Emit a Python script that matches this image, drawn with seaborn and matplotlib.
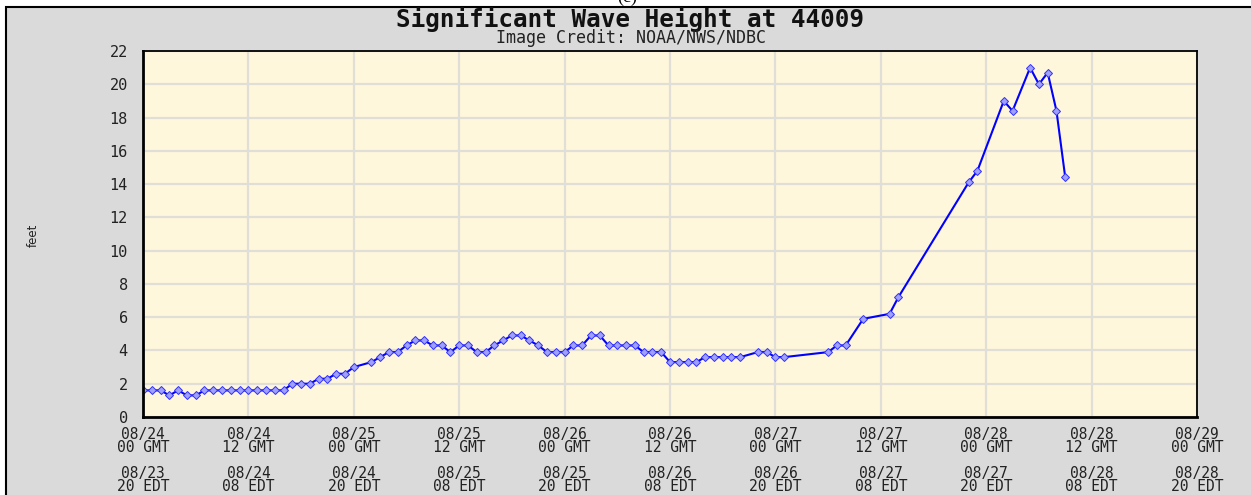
"""
Significant wave height at buoy 44009, redrawn in the NDBC plot style.
"""

import pandas as pd
import matplotlib
matplotlib.use("Agg")
import matplotlib.pyplot as plt
import seaborn as sns
from matplotlib.patches import Rectangle
from matplotlib.ticker import MultipleLocator, FixedLocator

# hours since 08/24 00 GMT
hours = (list(range(0, 25)) + list(range(26, 69)) + [70, 71, 72, 73]
         + [78, 79, 80, 82, 85, 86, 94, 95, 98, 99, 101, 102, 103, 104, 105])

wave_ft = ([1.6, 1.6, 1.6, 1.3, 1.6, 1.3, 1.3] + [1.6] * 10
           + [2.0, 2.0, 2.0, 2.3, 2.3, 2.6, 2.6, 3.0]
           + [3.3, 3.6, 3.9, 3.9, 4.3, 4.6, 4.6, 4.3, 4.3, 3.9,
              4.3, 4.3, 3.9, 3.9, 4.3, 4.6, 4.9, 4.9, 4.6, 4.3,
              3.9, 3.9, 3.9, 4.3, 4.3, 4.9, 4.9, 4.3, 4.3, 4.3,
              4.3, 3.9, 3.9, 3.9]
           + [3.3] * 4 + [3.6] * 5
           + [3.9, 3.9, 3.6, 3.6]
           + [3.9, 4.3, 4.3, 5.9, 6.2, 7.2, 14.1, 14.8, 19.0, 18.4,
              21.0, 20.0, 20.7, 18.4, 14.4])

tick_hours = list(range(0, 121, 12))
gmt_labels = ["08/24\n00 GMT", "08/24\n12 GMT", "08/25\n00 GMT", "08/25\n12 GMT",
              "08/26\n00 GMT", "08/26\n12 GMT", "08/27\n00 GMT", "08/27\n12 GMT",
              "08/28\n00 GMT", "08/28\n12 GMT", "08/29\n00 GMT"]
edt_labels = ["08/23\n20 EDT", "08/24\n08 EDT", "08/24\n20 EDT", "08/25\n08 EDT",
              "08/25\n20 EDT", "08/26\n08 EDT", "08/26\n20 EDT", "08/27\n08 EDT",
              "08/27\n20 EDT", "08/28\n08 EDT", "08/28\n20 EDT"]

df = pd.DataFrame({"hour": hours, "feet": wave_ft})

sns.set_style("white")
plt.rcParams['font.family'] = ['DejaVu Sans Mono', 'DejaVu Sans']

W, H = 1251, 495
fig = plt.figure(figsize=(W / 100, H / 100), dpi=100, facecolor='white')

# gray panel with black top/left border
fig.patches.append(Rectangle((6 / W, -0.05), 1.2, (H - 7) / H + 0.05,
                             transform=fig.transFigure, facecolor='#DADADA',
                             edgecolor='black', linewidth=1.5, zorder=-5))

ax = fig.add_axes([143 / W, (H - 417) / H, (1197 - 143) / W, (417 - 51) / H])
ax.set_facecolor('#FFF7DC')

sns.lineplot(data=df, x="hour", y="feet", ax=ax, color='#0000FF', linewidth=1.5,
             marker='D', markersize=4, markerfacecolor='#A0A0FF',
             markeredgecolor='#3030FF', markeredgewidth=0.7)

ax.set_xlim(0, 120)
ax.set_ylim(0, 22)
ax.xaxis.set_major_locator(FixedLocator(tick_hours))
ax.xaxis.set_minor_locator(MultipleLocator(3))
ax.yaxis.set_major_locator(MultipleLocator(2))
ax.yaxis.set_minor_locator(MultipleLocator(1))

labels = [g + "\n\n" + e for g, e in zip(gmt_labels, edt_labels)]
ax.set_xticklabels(labels, fontsize=10.5, linespacing=0.84, color='#222222')
ax.tick_params(axis='x', which='major', direction='in', length=6, width=1.3, pad=7)
ax.tick_params(axis='x', which='minor', direction='in', length=4, width=1.0)
ax.tick_params(axis='y', which='major', direction='in', length=8, width=1.3,
               pad=11, labelsize=11, labelcolor='#222222')
ax.tick_params(axis='y', which='minor', direction='in', length=5, width=1.0)

ax.grid(True, which='major', color='#E0DED6', linewidth=1.6)
ax.set_axisbelow(True)
for side in ['left', 'bottom', 'top', 'right']:
    ax.spines[side].set_color('black')
    ax.spines[side].set_linewidth(1.3)
ax.spines['left'].set_linewidth(2)
ax.spines['bottom'].set_linewidth(2)
ax.set_xlabel("")
ax.set_ylabel("")

fig.text(630 / W, 1 - 19 / H, "Significant Wave Height at 44009", ha='center',
         va='center', fontsize=17.5, fontweight='bold', color='#111111')
fig.text(631 / W, 1 - 38 / H, "Image Credit: NOAA/NWS/NDBC", ha='center',
         va='center', fontsize=12, color='#222222')
fig.text(33 / W, 1 - 235 / H, "feet", ha='center', va='center', rotation=90,
         fontsize=8.5, family='DejaVu Sans', color='#222222')
fig.text(627 / W, 1 - 1.5 / H, "(c)", ha='center', va='baseline', fontsize=13,
         family='Liberation Serif', color='black')

fig.savefig("out.png", dpi=100, facecolor=fig.get_facecolor())
